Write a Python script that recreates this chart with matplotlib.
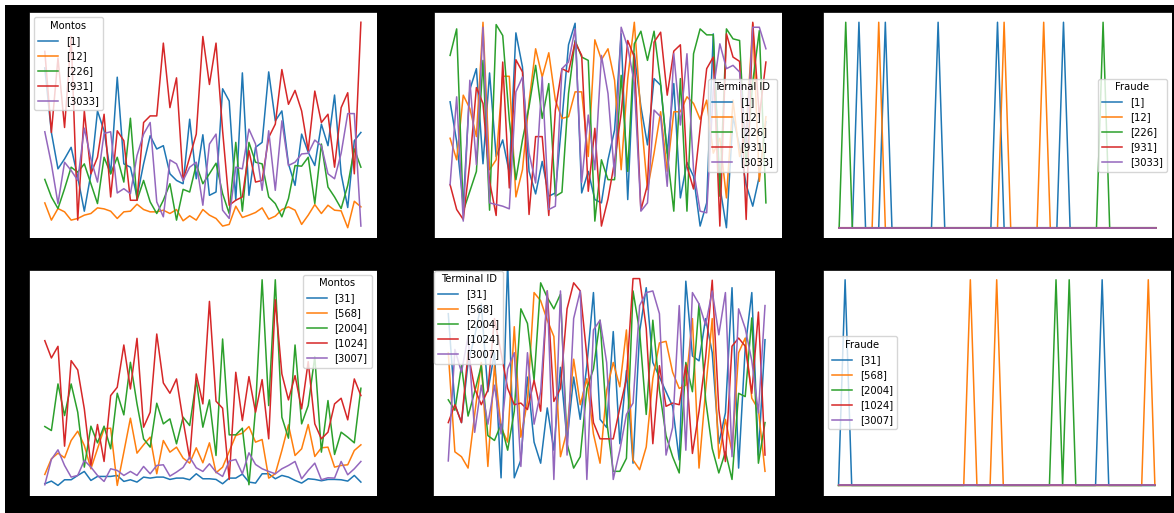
import numpy as np
import matplotlib.pyplot as plt
from matplotlib.patches import Rectangle

# 49 transactions per customer (index on the x axis)
n = 49
x = np.arange(n)

top_ids = ['[1]', '[12]', '[226]', '[931]', '[3033]']
bot_ids = ['[31]', '[568]', '[2004]', '[1024]', '[3007]']

# ---- Montos, first group of customers
montos_1 = [520, 325, 215, 245, 280, 190, 87, 200, 390, 330, 200, 492, 230, 220, 130, 230, 315, 275, 285, 200,
            180, 170, 365, 185, 318, 135, 145, 457, 420, 120, 505, 135, 280, 295, 508, 360, 390, 230, 165, 320,
            265, 225, 350, 285, 438, 200, 98, 300, 325]
montos_12 = [112, 60, 95, 85, 60, 65, 75, 80, 97, 94, 87, 65, 85, 87, 108, 92, 85, 85, 90, 80,
             92, 58, 73, 60, 92, 75, 65, 42, 47, 102, 68, 75, 83, 97, 63, 72, 92, 100, 90, 47,
             75, 107, 80, 105, 90, 88, 37, 117, 100]
montos_226 = [183, 130, 95, 155, 220, 205, 230, 170, 110, 250, 200, 250, 175, 368, 120, 180, 115, 80, 120, 170,
              60, 153, 145, 228, 170, 200, 232, 140, 80, 295, 87, 295, 235, 230, 130, 110, 70, 125, 225, 223,
              250, 110, 290, 160, 130, 95, 165, 275, 220]
montos_931 = [570, 325, 550, 340, 615, 60, 390, 200, 250, 380, 130, 330, 300, 120, 120, 355, 375, 375, 595, 400,
              490, 180, 250, 320, 615, 470, 595, 330, 105, 120, 130, 270, 175, 180, 310, 350, 515, 410, 452, 390,
              270, 450, 355, 380, 220, 400, 445, 200, 658]
montos_3033 = [327, 230, 110, 235, 210, 180, 338, 245, 175, 322, 327, 142, 155, 140, 255, 320, 355, 115, 70, 242,
               230, 180, 220, 235, 105, 290, 320, 90, 65, 220, 215, 335, 290, 150, 330, 150, 360, 225, 235, 260,
               262, 302, 285, 200, 185, 262, 382, 382, 42]

# ---- Montos, second group
montos_31 = [35, 43, 30, 47, 47, 60, 72, 45, 57, 57, 57, 60, 42, 47, 40, 55, 52, 55, 55, 48,
             52, 52, 47, 65, 50, 50, 48, 35, 52, 52, 64, 40, 37, 65, 65, 50, 60, 55, 45, 37,
             50, 48, 44, 48, 48, 47, 43, 60, 40]
montos_568 = [63, 110, 127, 113, 165, 193, 150, 80, 140, 200, 202, 30, 130, 232, 127, 152, 175, 65, 165, 130,
              145, 112, 97, 143, 98, 158, 68, 85, 132, 180, 187, 207, 160, 168, 52, 65, 135, 212, 120, 140,
              213, 117, 143, 145, 85, 90, 92, 135, 152]
montos_2004 = [207, 195, 335, 240, 335, 250, 85, 208, 158, 208, 140, 307, 242, 400, 275, 170, 145, 277, 215, 230,
               155, 235, 210, 345, 205, 287, 120, 470, 182, 182, 202, 32, 260, 648, 270, 648, 235, 172, 452, 215,
               270, 417, 130, 285, 123, 190, 175, 158, 322]
montos_1024 = [465, 413, 448, 148, 405, 377, 260, 90, 213, 102, 300, 325, 452, 320, 472, 205, 250, 485, 338, 307,
               350, 225, 110, 365, 275, 583, 283, 262, 48, 370, 225, 357, 250, 348, 170, 588, 365, 287, 360, 260,
               402, 215, 170, 190, 275, 292, 227, 350, 300]
montos_3007 = [32, 108, 137, 90, 55, 60, 105, 85, 60, 42, 80, 75, 60, 72, 60, 87, 65, 90, 92, 58,
               70, 84, 115, 83, 72, 95, 70, 57, 103, 108, 65, 128, 93, 80, 72, 65, 80, 90, 102, 50,
               75, 97, 47, 53, 52, 102, 62, 80, 102]

# ---- Terminal ID, first group
term_1 = [4150, 2950, 1050, 4520, 5150, 2280, 5020, 2500, 3000, 2000, 6230, 5200, 2050, 1370, 2350, 1300, 1400, 3600, 5870, 6520,
          1400, 2050, 1200, 1100, 2400, 3300, 6200, 1200, 5600, 4000, 2850, 4850, 4650, 2600, 4700, 1250, 2320, 1900, 400, 1100,
          6200, 1600, 350, 3700, 2800, 1650, 1000, 1900, 3550]
term_12 = [3050, 2400, 4350, 3950, 3100, 6550, 2100, 2400, 4920, 4920, 1280, 2100, 4150, 5750, 4900, 5630, 4200, 3650, 3700, 4450,
           4450, 2500, 6020, 5420, 5750, 4800, 2100, 4850, 6550, 3750, 1500, 2600, 3850, 2050, 3850, 3850, 4300, 4100, 3620, 4200,
           2600, 3050, 1250, 4200, 2500, 3250, 6520, 1750, 3700]
term_226 = [5550, 6350, 850, 1450, 2050, 5400, 880, 6480, 6150, 3600, 1800, 3000, 4000, 5250, 3650, 4700, 1300, 1420, 4400, 6000,
            5500, 5400, 550, 2400, 1800, 1800, 4950, 2050, 5900, 6280, 5400, 6280, 4700, 2600, 850, 4850, 850, 5600, 6350, 6170,
            6170, 1300, 6350, 6050, 6000, 2200, 4750, 6300, 1100]
term_931 = [1650, 900, 600, 2300, 4580, 4100, 1750, 720, 5350, 1550, 5420, 5050, 750, 3100, 3100, 720, 3900, 5150, 5050, 5950,
            5550, 1450, 3350, 400, 1220, 2350, 3800, 6000, 5500, 880, 1650, 5950, 6250, 4350, 5680, 5870, 2200, 1520, 3350, 5150,
            5500, 400, 6200, 5500, 5370, 600, 6550, 3700, 5350]
term_3033 = [1650, 4300, 550, 4800, 2250, 6400, 1100, 1050, 1000, 920, 4450, 4900, 2600, 1700, 4900, 900, 1000, 5150, 5350, 6350,
             1720, 3750, 2100, 5550, 4400, 1900, 6400, 5800, 4700, 850, 1100, 3900, 3700, 1600, 5600, 3450, 5600, 2100, 850, 800,
             4500, 5900, 5150, 5250, 5050, 2900, 6400, 6400, 5750]

# ---- Terminal ID, second group
term_31 = [5400, 2600, 2050, 3900, 4700, 5700, 3000, 4200, 350, 7000, 350, 900, 3450, 1450, 800, 2500, 1200, 3750, 1500, 3450,
           2150, 3800, 6050, 2150, 1900, 4850, 1400, 3650, 800, 4850, 6200, 3900, 3450, 3000, 2550, 900, 6400, 4100, 3950, 5250,
           4200, 1400, 2350, 6200, 650, 4350, 6050, 1050, 4600]
term_568 = [4200, 1150, 1000, 650, 2300, 3900, 700, 3800, 1900, 1450, 5000, 1600, 2700, 6050, 5800, 5200, 4700, 1000, 1800, 4000,
            2600, 3400, 1700, 800, 3050, 3900, 3150, 4900, 900, 600, 1300, 3400, 4500, 4550, 3600, 3100, 3200, 5250, 650, 3050,
            5250, 950, 2150, 1150, 4200, 4650, 2800, 2450, 550]
term_2004 = [2750, 2430, 3800, 2250, 3000, 3800, 1650, 1500, 2000, 1200, 2400, 5550, 5100, 3350, 6350, 5900, 5550, 6000, 1400, 650,
             1000, 3100, 3700, 5200, 2100, 550, 550, 950, 6100, 4850, 2300, 5200, 3050, 1650, 1000, 500, 3900, 3000, 5700, 2750,
             1250, 500, 1150, 300, 2950, 2850, 5270, 800, 2050]
term_1024 = [2050, 2600, 2050, 4200, 3100, 2600, 3050, 5250, 4200, 3100, 2600, 2650, 2450, 3350, 2400, 6100, 2700, 3100, 5550, 6350,
             6100, 4100, 2050, 1550, 1550, 1550, 2500, 3400, 6480, 6480, 4950, 1400, 3800, 2550, 2650, 2600, 3820, 1100, 2400, 4050,
             6430, 2450, 850, 4400, 4650, 4400, 2950, 5450, 1050]
term_3007 = [870, 4300, 3600, 4700, 1750, 3200, 2000, 3200, 1700, 3700, 4200, 700, 4200, 2000, 3000, 6100, 300, 6100, 1050, 5250,
             6100, 300, 4900, 5200, 3900, 300, 1200, 2300, 2650, 5650, 6050, 6100, 5400, 1050, 1900, 5650, 1200, 6050, 5700, 5050,
             6100, 4750, 6050, 1000, 5550, 4950, 3950, 2350, 5650]

# ---- Fraude: positions of the fraudulent transactions (all others are 0)
fraude_top_pos = [[3, 7, 15, 24, 34], [6, 25, 31], [1, 40], [], []]
fraude_bot_pos = [[1, 40], [20, 24, 47], [33, 35], [], []]


def fraude_series(positions):
    s = np.zeros(n)
    s[positions] = 1
    return s


montos_top = [montos_1, montos_12, montos_226, montos_931, montos_3033]
montos_bot = [montos_31, montos_568, montos_2004, montos_1024, montos_3007]
term_top = [term_1, term_12, term_226, term_931, term_3033]
term_bot = [term_31, term_568, term_2004, term_1024, term_3007]
fraude_top = [fraude_series(p) for p in fraude_top_pos]
fraude_bot = [fraude_series(p) for p in fraude_bot_pos]

W, H = 1174, 513
fig = plt.figure(figsize=(W / 100, H / 100), dpi=100)
fig.patch.set_facecolor('white')
fig.add_artist(Rectangle((5 / W, 0), 1, 508 / H, transform=fig.transFigure,
                         facecolor='black', edgecolor='none', zorder=-1))


def make_ax(left, top, right, bottom):
    # pixel box -> figure fraction
    return fig.add_axes([left / W, 1 - bottom / H, (right - left) / W, (bottom - top) / H])


panels = [
    (make_ax(29, 12, 376.7, 238), montos_top, top_ids, 'Montos', dict(loc='upper left')),
    (make_ax(434.3, 12, 781.7, 238), term_top, top_ids, 'Terminal ID', dict(loc='center right')),
    (make_ax(823.3, 12, 1171.7, 238), fraude_top, top_ids, 'Fraude', dict(loc='center right')),
    (make_ax(29, 269.5, 376.7, 495.7), montos_bot, bot_ids, 'Montos', dict(loc='upper right')),
    (make_ax(433.3, 269.5, 775.3, 495.7), term_bot, bot_ids, 'Terminal ID', dict(loc='upper left', borderaxespad=0.1)),
    (make_ax(822.7, 269.5, 1170.7, 495.7), fraude_bot, bot_ids, 'Fraude', dict(loc='center left')),
]

for ax, series, ids, title, leg_kw in panels:
    for vals, lab in zip(series, ids):
        ax.plot(x, vals, lw=1.1, label=lab)
    ax.legend(title=title, fontsize=7.2, title_fontsize=7.2, **leg_kw)
    ax.tick_params(left=False, bottom=False, labelleft=False, labelbottom=False)
    for sp in ax.spines.values():
        sp.set_linewidth(0.6)

# bottom middle panel is a bit narrower and clips its highest point
ax_tb = panels[4][0]
ax_tb.set_xlim(-2.27, 49.56)
ax_tb.set_ylim(-200, 6760)

fig.savefig('out.png', dpi=100)
